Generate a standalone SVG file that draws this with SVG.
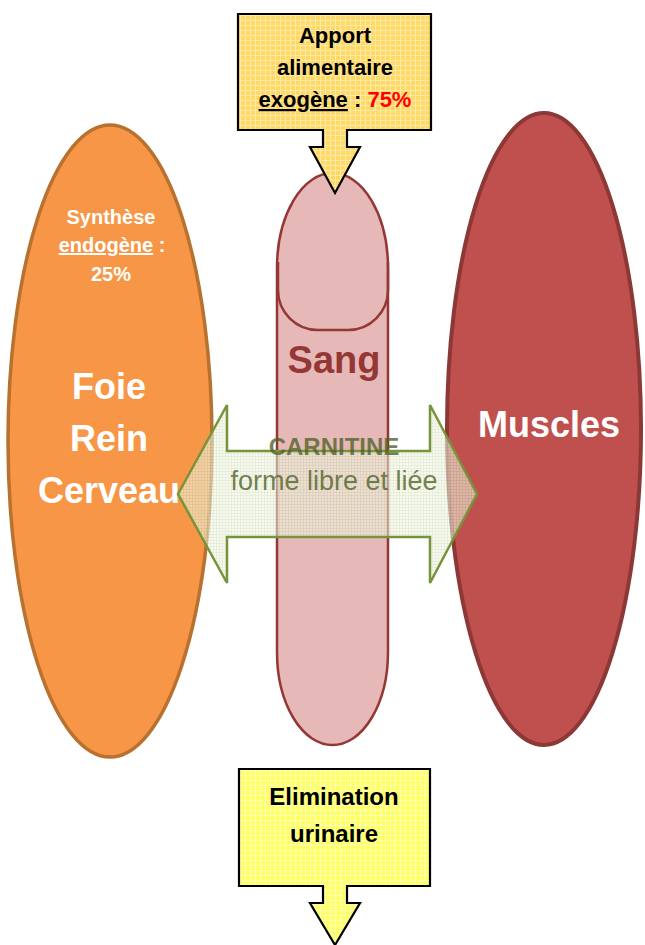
<svg xmlns="http://www.w3.org/2000/svg" width="645" height="945" viewBox="0 0 645 945">
<style>
text{font-family:"Liberation Sans",Arial,sans-serif;text-anchor:middle}
.b{font-weight:bold}
.w{fill:#FFFFFF}
.k{fill:#000000}
.callout{stroke:#000000;stroke-width:2.2;stroke-linejoin:miter}
.g{fill:#4F6228;fill-opacity:0.8}
</style>
<defs>
<pattern id="pOr" width="5" height="5" patternUnits="userSpaceOnUse">
<rect width="5" height="5" fill="#FFD966"/>
<path d="M0 0.5H5M0.5 0V5" stroke="#FFE9A6" stroke-width="1"/>
</pattern>
<pattern id="pYe" width="5" height="5" patternUnits="userSpaceOnUse">
<rect width="5" height="5" fill="#FFFF66"/>
<path d="M0 0.5H5M0.5 0V5" stroke="#FFFFB0" stroke-width="1"/>
</pattern>
<pattern id="pGr" width="3" height="3" patternUnits="userSpaceOnUse">
<rect width="3" height="3" fill="#F2F6EA"/>
<path d="M0 0.5H3M0.5 0V3" stroke="#C9DAA6" stroke-width="0.6"/>
</pattern>
</defs>

<g id="foie">
<ellipse cx="110" cy="441" rx="102" ry="316" fill="#F79646" stroke="#B8712F" stroke-width="3.5"/>
<text class="b w" x="111" y="224" font-size="20">Synthèse</text>
<text class="b w" x="112" y="252" font-size="20"><tspan text-decoration="underline">endogène</tspan> :</text>
<text class="b w" x="111" y="281" font-size="20">25%</text>
<text class="b w" x="109" y="399" font-size="36">Foie</text>
<text class="b w" x="109" y="451" font-size="36">Rein</text>
<text class="b w" x="109" y="503" font-size="36">Cerveau</text>
</g>

<g id="muscles">
<ellipse cx="544" cy="429" rx="97" ry="316" fill="#C0504D" stroke="#8C3836" stroke-width="4"/>
<text class="b w" x="549" y="437" font-size="36">Muscles</text>
</g>

<g id="sang">
<path d="M277,268 A55.5,95 0 0 1 388,268 L388,652 A55.5,93 0 0 1 277,652 Z" fill="#E6B9B8" stroke="#953735" stroke-width="2.5"/>
<path d="M278,262 V290 A40,40 0 0 0 318,330 H348 A40,40 0 0 0 388,290 V262" fill="none" stroke="#953735" stroke-width="2.5"/>
<text class="b" x="334" y="373" font-size="38" fill="#953735">Sang</text>
</g>

<g id="connectors">
<g id="apport">
<path class="callout" d="M238,14 H431 V130 H347 V147 H360 L335,193 L310,147 H323 V130 H238 Z" fill="url(#pOr)"/>
<text class="b k" x="335" y="43" font-size="22">Apport</text>
<text class="b k" x="335" y="75" font-size="22">alimentaire</text>
<text class="b k" x="335" y="107" font-size="22"><tspan text-decoration="underline">exogène</tspan> : <tspan fill="#FF0000">75%</tspan></text>
</g>
<g id="carnitine">
<path d="M178,494 L227,405 V451 H430 V405 L477,494 L430,583 V537 H227 V583 Z" fill="url(#pGr)" fill-opacity="0.6" stroke="#77933C" stroke-width="2.5" stroke-linejoin="miter"/>
<text class="b g" x="334" y="455" font-size="24">CARNITINE</text>
<text class="g" x="334" y="490" font-size="27">forme libre et liée</text>
</g>
<g id="elimination">
<path class="callout" d="M239,769 H430 V886 H347 V903 H360 L335,945 L310,903 H323 V886 H239 Z" fill="url(#pYe)"/>
<text class="b k" x="334" y="805" font-size="24">Elimination</text>
<text class="b k" x="334" y="842" font-size="24">urinaire</text>
</g>
</g>
</svg>
